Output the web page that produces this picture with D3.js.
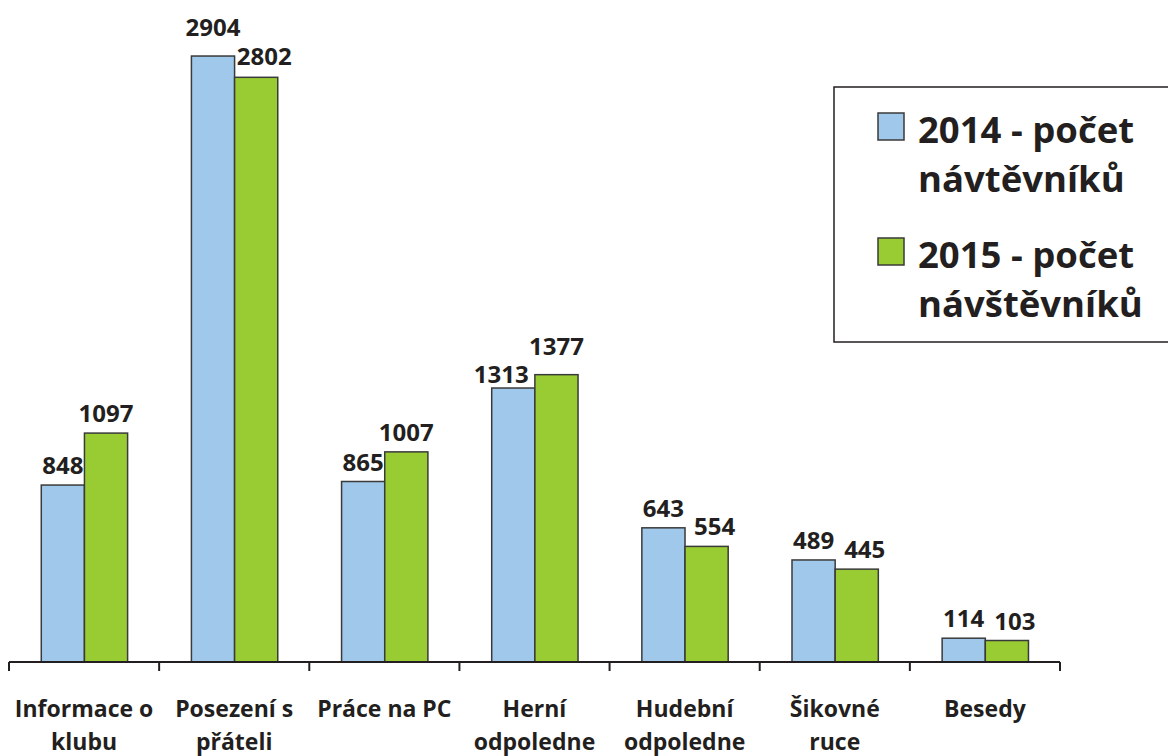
<!DOCTYPE html>
<meta charset="utf-8">
<html>
<head>
<style>
  body { margin: 0; background: #fff; }
  text { font-family: "Open Sans", sans-serif; font-weight: 700; fill: #231f20; }
</style>
</head>
<body>
<div id="chart"></div>
<script src="https://cdnjs.cloudflare.com/ajax/libs/d3/7.8.5/d3.min.js"></script>
<script>
  // data
  var categories = [
    ["Informace o", "klubu"],
    ["Posezení s", "přáteli"],
    ["Práce na PC"],
    ["Herní", "odpoledne"],
    ["Hudební", "odpoledne"],
    ["Šikovné", "ruce"],
    ["Besedy"]
  ];
  var series = ["2014 - počet návtěvníků", "2015 - počet návštěvníků"];
  var legendLines = [["2014 - počet", "návtěvníků"], ["2015 - počet", "návštěvníků"]];
  var values2014 = [848, 2904, 865, 1313, 643, 489, 114];
  var values2015 = [1097, 2802, 1007, 1377, 554, 445, 103];
  var colors = ["#9fc8eb", "#99cc33"];

  var W = 1168, H = 756;
  var svg = d3.select("#chart").append("svg")
      .attr("width", W)
      .attr("height", H);

  var keys = categories.map(function(c, i) { return i; });

  var x = d3.scaleBand()
      .domain(keys)
      .range([9, 1060])
      .padding(0);

  var x1 = d3.scaleBand()
      .domain([0, 1])
      .range([x.bandwidth() * 0.215, x.bandwidth() * 0.79]);

  var y = d3.scaleLinear()
      .domain([0, 3000])
      .range([662, 36]);

  function pairs(d) {
    return [values2014[d], values2015[d]].map(function(v, s, arr) {
      return {s: s, v: v, other: arr[1 - s]};
    });
  }

  // bars
  var groups = svg.append("g").selectAll("g")
    .data(keys)
    .enter().append("g")
      .attr("transform", function(d) { return "translate(" + x(d) + ",0)"; });

  groups.selectAll("rect")
    .data(pairs)
    .enter().append("rect")
      .attr("x", function(d) { return x1(d.s); })
      .attr("y", function(d) { return y(d.v); })
      .attr("width", x1.bandwidth())
      .attr("height", function(d) { return y(0) - y(d.v); })
      .attr("fill", function(d) { return colors[d.s]; })
      .attr("stroke", "#3a3a3a")
      .attr("stroke-width", 1.5);

  // value labels; when two labels would collide they are pushed apart
  function close(d) { return Math.abs(y(d.v) - y(d.other)) < 25; }
  function wide(d) { return String(d.v).length > 3 && String(d.other).length > 3; }
  groups.selectAll("text.val")
    .data(pairs)
    .enter().append("text")
      .attr("class", "val")
      .attr("x", function(d) {
        var cx = x1(d.s) + x1.bandwidth() / 2;
        if (close(d) && d.v < d.other) {
          if (d.s === 1) cx += 8;
          else if (wide(d)) cx -= 12;
        }
        return cx;
      })
      .attr("y", function(d) {
        var gap = 11;
        if (close(d) && wide(d)) gap = d.v > d.other ? 20 : (d.s === 0 ? 5 : 12);
        return y(d.v) - gap;
      })
      .attr("text-anchor", "middle")
      .style("font-size", "24px")
      .text(function(d) { return d.v; });

  // x axis
  var axis = svg.append("g");
  axis.append("line")
      .attr("x1", x.range()[0]).attr("x2", x.range()[1])
      .attr("y1", y(0)).attr("y2", y(0))
      .attr("stroke", "#231f20").attr("stroke-width", 2);
  var tickPos = keys.map(function(k) { return x(k); }).concat([x.range()[1]]);
  axis.selectAll("line.tick")
    .data(tickPos)
    .enter().append("line")
      .attr("class", "tick")
      .attr("x1", function(d) { return d; }).attr("x2", function(d) { return d; })
      .attr("y1", y(0)).attr("y2", y(0) + 9)
      .attr("stroke", "#231f20").attr("stroke-width", 2);

  axis.selectAll("text.cat")
    .data(keys)
    .enter().append("text")
      .attr("class", "cat")
      .attr("text-anchor", "middle")
      .style("font-size", "23px")
      .attr("x", function(d) { return x(d) + x.bandwidth() / 2; })
      .attr("y", 717)
      .each(function(d) {
        var t = d3.select(this);
        categories[d].forEach(function(line, i) {
          t.append("tspan")
            .attr("x", x(d) + x.bandwidth() / 2)
            .attr("dy", i === 0 ? 0 : 33)
            .text(line);
        });
      });

  // legend
  var legend = svg.append("g");
  legend.append("rect")
      .attr("x", 834).attr("y", 87)
      .attr("width", 340).attr("height", 255)
      .attr("fill", "#fff")
      .attr("stroke", "#231f20").attr("stroke-width", 1.5);

  var entryY = [143, 268];
  legendLines.forEach(function(lines, i) {
    legend.append("rect")
        .attr("x", 878).attr("y", entryY[i] - 30)
        .attr("width", 26).attr("height", 27)
        .attr("fill", colors[i])
        .attr("stroke", "#3a3a3a").attr("stroke-width", 1.5);
    var t = legend.append("text")
        .attr("x", 918).attr("y", entryY[i])
        .style("font-size", "36.5px");
    lines.forEach(function(line, j) {
      t.append("tspan")
        .attr("x", 918)
        .attr("dy", j === 0 ? 0 : 49)
        .text(line);
    });
  });
</script>
</body>
</html>
